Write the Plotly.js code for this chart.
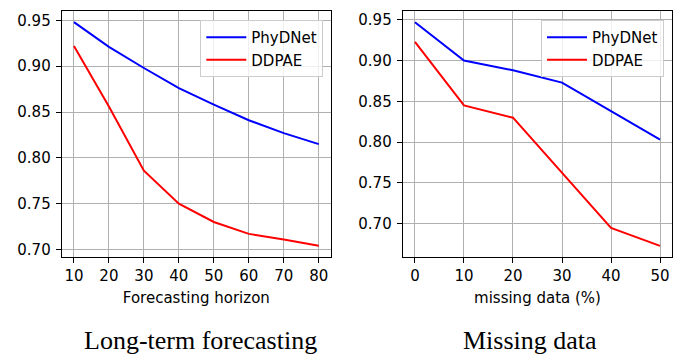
<!DOCTYPE html>
<html>
<head>
<meta charset="utf-8">
<script src="https://cdn.plot.ly/plotly-3.0.1.min.js"></script>
<style>html,body{margin:0;padding:0;background:#fff;}#chart{width:679px;height:356px;}</style>
</head>
<body>
<div id="chart"></div>
<script>
// Left panel: long-term forecasting
var horizon = [10, 20, 30, 40, 50, 60, 70, 80];
var phydnetHorizon = [0.948, 0.921, 0.898, 0.876, 0.858, 0.841, 0.827, 0.815];
var ddpaeHorizon = [0.922, 0.856, 0.786, 0.750, 0.730, 0.717, 0.711, 0.704];

// Right panel: missing data
var missing = [0, 10, 20, 30, 40, 50];
var phydnetMissing = [0.947, 0.900, 0.888, 0.873, 0.838, 0.803];
var ddpaeMissing = [0.923, 0.845, 0.830, 0.763, 0.695, 0.673];

var yTicks = [0.70, 0.75, 0.80, 0.85, 0.90, 0.95];
var seriesNames = ['PhyDNet', 'DDPAE'];
var captions = ['Long-term forecasting', 'Missing data'];
var xTitles = ['Forecasting horizon', 'missing data (%)'];

var W = 679, H = 356;
var font = {family: 'DejaVu Sans', size: 15, color: '#000'};

var traces = [
  {x: horizon, y: phydnetHorizon, name: seriesNames[0], legendgroup: 'a', mode: 'lines', line: {color: '#0000ff', width: 2}, xaxis: 'x', yaxis: 'y', legend: 'legend'},
  {x: horizon, y: ddpaeHorizon, name: seriesNames[1], legendgroup: 'b', mode: 'lines', line: {color: '#ff0000', width: 2}, xaxis: 'x', yaxis: 'y', legend: 'legend'},
  {x: missing, y: phydnetMissing, name: seriesNames[0], legendgroup: 'c', mode: 'lines', line: {color: '#0000ff', width: 2}, xaxis: 'x2', yaxis: 'y2', legend: 'legend2'},
  {x: missing, y: ddpaeMissing, name: seriesNames[1], legendgroup: 'd', mode: 'lines', line: {color: '#ff0000', width: 2}, xaxis: 'x2', yaxis: 'y2', legend: 'legend2'}
];

function axisBase() {
  return {
    showline: true, mirror: true, linecolor: '#000', linewidth: 1,
    showgrid: true, gridcolor: '#b0b0b0', gridwidth: 1,
    zeroline: false, ticks: 'outside', ticklen: 5, tickwidth: 1, tickcolor: '#000',
    tickfont: font, fixedrange: true
  };
}

function pad(arr, frac) {
  var mn = Math.min.apply(null, arr), mx = Math.max.apply(null, arr);
  var d = (mx - mn) * frac;
  return [mn - d, mx + d];
}

var yDomain = [(H - 257) / H, (H - 11) / H];

var xa = Object.assign(axisBase(), {
  domain: [61.7 / W, 331 / W], range: pad(horizon, 0.05), tickvals: horizon,
  title: {text: xTitles[0], font: font, standoff: 8}, anchor: 'y'
});
var ya = Object.assign(axisBase(), {
  domain: yDomain, range: pad(phydnetHorizon.concat(ddpaeHorizon), 0.05),
  tickvals: yTicks, tickformat: '.2f', anchor: 'x', ticklabelstandoff: 2
});
var xa2 = Object.assign(axisBase(), {
  domain: [402.7 / W, 672.3 / W], range: pad(missing, 0.05), tickvals: missing,
  title: {text: xTitles[1], font: font, standoff: 8}, anchor: 'y2'
});
var ya2 = Object.assign(axisBase(), {
  domain: yDomain, range: pad(phydnetMissing.concat(ddpaeMissing), 0.05),
  tickvals: yTicks, tickformat: '.2f', anchor: 'x2', ticklabelstandoff: 2
});

function legendObj(xr) {
  return {
    x: xr / W, xanchor: 'right', y: (H - 20) / H, yanchor: 'top',
    bgcolor: 'rgba(255,255,255,0.8)', bordercolor: '#cccccc', borderwidth: 1,
    font: font, itemwidth: 40, tracegroupgap: 0, traceorder: 'grouped'
  };
}

var layout = {
  width: W, height: H,
  margin: {l: 0, r: 0, t: 0, b: 0},
  paper_bgcolor: '#fff', plot_bgcolor: '#fff',
  font: font,
  xaxis: xa, yaxis: ya, xaxis2: xa2, yaxis2: ya2,
  legend: legendObj(323.3),
  legend2: legendObj(664),
  showlegend: true,
  annotations: [
    {text: captions[0], xref: 'paper', yref: 'paper', x: 200 / W, y: (H - 340) / H, xanchor: 'center', yanchor: 'middle', showarrow: false, font: {family: 'Liberation Serif', size: 26, color: '#000'}},
    {text: captions[1], xref: 'paper', yref: 'paper', x: 530 / W, y: (H - 340) / H, xanchor: 'center', yanchor: 'middle', showarrow: false, font: {family: 'Liberation Serif', size: 26, color: '#000'}}
  ]
};

Plotly.newPlot('chart', traces, layout, {staticPlot: true, displayModeBar: false});
</script>
</body>
</html>
